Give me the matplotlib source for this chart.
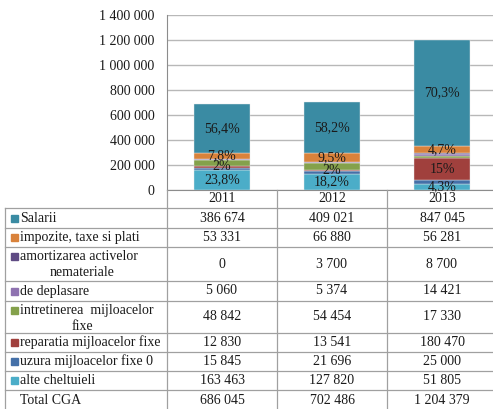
import matplotlib
matplotlib.use('Agg')
import matplotlib.pyplot as plt
from matplotlib.lines import Line2D
from matplotlib.patches import Rectangle

plt.rcParams['font.family'] = ['Liberation Serif', 'DejaVu Serif']

# ---------------- data ----------------
years = ['2011', '2012', '2013']
salarii = [386674, 409021, 847045]
impozite = [53331, 66880, 56281]
amortizarea = [0, 3700, 8700]
deplasare = [5060, 5374, 14421]
intretinerea = [48842, 54454, 17330]
reparatia = [12830, 13541, 180470]
uzura = [15845, 21696, 25000]
alte = [163463, 127820, 51805]
total_cga = [686045, 702486, 1204379]

salarii_pct = ['56,4%', '58,2%', '70,3%']
impozite_pct = ['7,8%', '9,5%', '4,7%']
reparatia_pct = ['2%', '2%', '15%']
alte_pct = ['23,8%', '18,2%', '4,3%']

y_ticks = [0, 200000, 400000, 600000, 800000, 1000000, 1200000, 1400000]

# ---------------- styles ----------------
C_SAL = '#3A8BA3'
C_IMP = '#D9823B'
C_AMO = '#5F4B84'
C_DEP = '#8E72B0'
C_INT = '#84A14B'
C_REP = '#A0403D'
C_UZU = '#4470A8'
C_ALT = '#4BADC8'
TXT = '#1a1a1a'
LINE = '#a0a0a0'

W, H = 493, 409
fig = plt.figure(figsize=(W / 100, H / 100), dpi=100)


def X(px):
    return px / W


def Y(py):
    return 1 - py / H


# ---------------- chart ----------------
ax = fig.add_axes([X(167), Y(190), (497 - 167) / W, 175 / H])
ax.set_xlim(-0.5, 2.5)
ax.set_ylim(0, 1400000)

# stacking bottom -> top
stack = [
    (alte, C_ALT, alte_pct),
    (uzura, C_UZU, None),
    (reparatia, C_REP, reparatia_pct),
    (intretinerea, C_INT, None),
    (deplasare, C_DEP, None),
    (amortizarea, C_AMO, None),
    (impozite, C_IMP, impozite_pct),
    (salarii, C_SAL, salarii_pct),
]
xs = list(range(len(years)))
bottom = [0] * len(years)
for vals, col, labs in stack:
    ax.bar(xs, vals, 0.51, bottom=bottom, color=col, edgecolor='#e8e8e8',
           linewidth=0.3, zorder=3)
    if labs is not None:
        for i in xs:
            ax.text(i, bottom[i] + vals[i] / 2, labs[i], ha='center', va='center',
                    fontsize=10, color=TXT, zorder=4)
    bottom = [b + v for b, v in zip(bottom, vals)]

ax.set_yticks(y_ticks)
ax.set_yticklabels([f"{v:,}".replace(',', ' ') for v in y_ticks], fontsize=10, color=TXT)
ax.tick_params(axis='y', length=0, pad=9)
ax.set_xticks([])
ax.grid(axis='y', color='#b8b8b8', linewidth=1.0, zorder=0)
for s in ['top', 'right']:
    ax.spines[s].set_visible(False)
ax.spines['left'].set_color('#8c8c8c')
ax.spines['bottom'].set_color('#8c8c8c')
ax.patch.set_alpha(0)

# ---------------- data table ----------------
col_edges = [5, 167, 277, 387, 497]
col_centers = [222, 332, 442]
row_edges = [208, 228, 247, 281, 301, 333, 352, 371, 390, 410]


def hline(y, x0, x1):
    fig.add_artist(Line2D([X(x0), X(x1)], [Y(y), Y(y)], color=LINE, lw=0.9))


def vline(x, y0, y1):
    fig.add_artist(Line2D([X(x), X(x)], [Y(y0), Y(y1)], color=LINE, lw=0.9))


for y in row_edges:
    hline(y, 5, 497)
vline(5, 208, 410)
for x in col_edges[1:4]:
    vline(x, 190, 410)

for i, yr in enumerate(years):
    fig.text(X(col_centers[i]), Y(199), yr, ha='center', va='center', fontsize=10, color=TXT)

rows = [
    (['Salarii'], C_SAL, salarii),
    (['impozite, taxe si plati'], C_IMP, impozite),
    (['amortizarea activelor', 'nemateriale'], C_AMO, amortizarea),
    (['de deplasare'], C_DEP, deplasare),
    (['intretinerea  mijloacelor', 'fixe'], C_INT, intretinerea),
    (['reparatia mijloacelor fixe'], C_REP, reparatia),
    (['uzura mijloacelor fixe 0'], C_UZU, uzura),
    (['alte cheltuieli'], C_ALT, alte),
    (['Total CGA'], None, total_cga),
]

for r, (lab, col, vals) in enumerate(rows):
    top, bot = row_edges[r], row_edges[r + 1]
    yc = (top + bot) / 2
    if len(lab) == 1:
        ly = yc
    else:
        ly = top + 9.5
    if col is not None:
        fig.add_artist(Rectangle((X(11), Y(ly + 3.5)), 7 / W, 7 / H, color=col,
                                 transform=fig.transFigure))
    fig.text(X(20), Y(ly), lab[0], ha='left', va='center', fontsize=10, color=TXT)
    if len(lab) > 1:
        fig.text(X(82), Y(top + 25), lab[1], ha='center', va='center', fontsize=10, color=TXT)
    for i in xs:
        fig.text(X(col_centers[i]), Y(yc), f"{vals[i]:,}".replace(',', ' '),
                 ha='center', va='center', fontsize=10, color=TXT)

fig.savefig('out.png', dpi=100)
